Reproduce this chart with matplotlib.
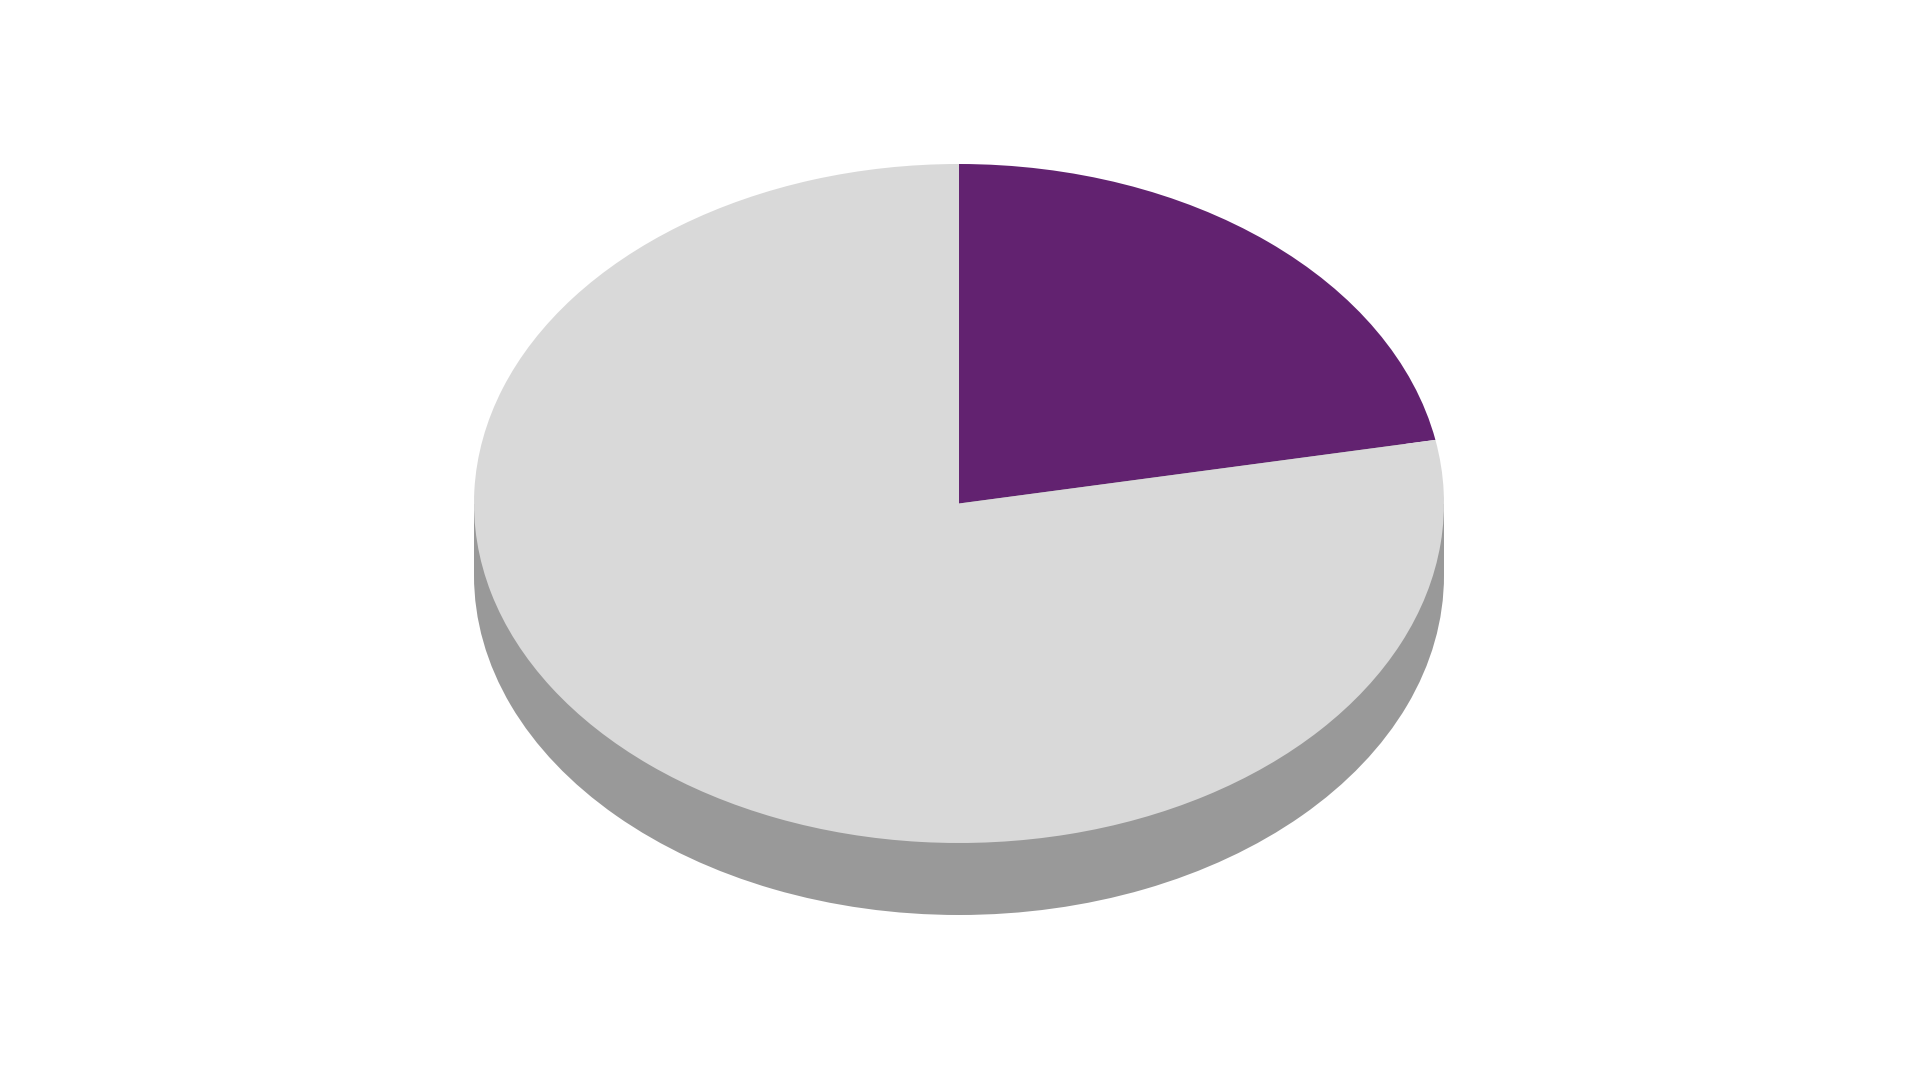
import matplotlib
matplotlib.use('Agg')
import matplotlib.pyplot as plt

# 数据
labels = ['A', 'B']
values = [22, 78]
colors = ['#622270', '#d9d9d9']
side_color = '#999999'

# 画布 1920x1080
W, H = 1920, 1080
cx, cy = 959, 503.5      # 椭圆中心（像素，从上往下）
rx, ry = 485, 339.5      # 椭圆半轴
depth = 72 / ry          # 侧面厚度（数据单位）

fig = plt.figure(figsize=(19.2, 10.8), dpi=100)
ax = fig.add_axes([0, 0, 1, 1])

# 侧面：底部椭圆 + 矩形
ax.pie([1], colors=[side_color], radius=1, center=(0, -depth),
       wedgeprops=dict(linewidth=0))
ax.fill_between([-1, 1], -depth, 0, color=side_color, linewidth=0)

# 顶面
ax.pie(values, colors=colors, startangle=90, counterclock=False, radius=1,
       center=(0, 0), wedgeprops=dict(linewidth=0))

# 把圆拉成椭圆
ax.set_aspect('auto')
ax.set_xlim(-cx / rx, (W - cx) / rx)
ax.set_ylim(-(H - cy) / ry, cy / ry)
ax.axis('off')

fig.savefig('out.png', dpi=100, facecolor='white')
